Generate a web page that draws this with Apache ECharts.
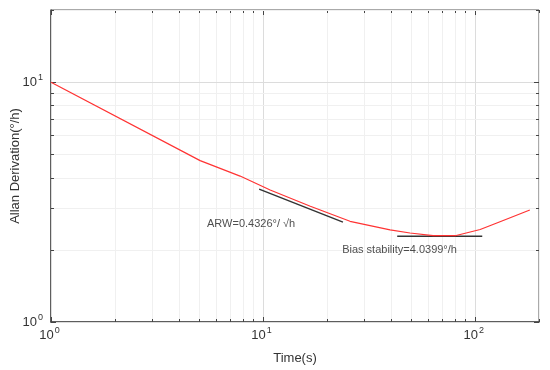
<!DOCTYPE html>
<html>
<head>
<meta charset="utf-8">
<script src="https://cdn.jsdelivr.net/npm/echarts@6/dist/echarts.min.js"></script>
<style>
  html, body { margin: 0; padding: 0; background: #fff; }
  #allan { width: 550px; height: 370px; }
</style>
</head>
<body>
<div id="allan"></div>
<script>
// averaging time (s) and Allan deviation (deg/h)
const tau = [1, 5.05, 7.79, 10.8, 16.7, 25.7, 39.7, 49.3, 63.4, 80.5, 105.6, 131, 181]
const adev = [10, 4.71, 4.06, 3.55, 3.04, 2.63, 2.42, 2.35, 2.29, 2.29, 2.43, 2.62, 2.93]

// fitted lines
const arwLine = [[9.58, 3.58], [23.8, 2.61]]
const biasLine = [[42.9, 2.28], [108, 2.28]]

// annotation texts and anchors
const arwText = 'ARW=0.4326°/ √h'
const arwAt = [5.44, 2.56]
const biasText = 'Bias stability=4.0399°/h'
const biasAt = [23.6, 2.0]

// tick values on the log axes
const xTicks = [1, 2, 3, 4, 5, 6, 7, 8, 9, 10, 20, 30, 40, 50, 60, 70, 80, 90, 100, 200]
const yTicks = [1, 2, 3, 4, 5, 6, 7, 8, 9, 10, 20]
const xMajor = [1, 10, 100]
const yMajor = [1, 10]

const FONT = 'Liberation Sans, Arial, sans-serif'

function powLabel (value) {
  const e = Math.log10(value)
  if (Math.abs(e - Math.round(e)) > 1e-6) return ''
  return '{b|10}{s|' + Math.round(e) + '}'
}

const yRich = {
  b: { fontSize: 13, color: '#333', fontFamily: FONT },
  s: { fontSize: 9, color: '#333', fontFamily: FONT, padding: [0, 0, 9, 1] }
}
const xRich = {
  b: { fontSize: 13, color: '#333', fontFamily: FONT },
  s: { fontSize: 9, color: '#333', fontFamily: FONT, padding: [0, 3, 9, 1] }
}

function drawFrame (params, api) {
  const cs = params.coordSys
  const left = cs.x
  const top = cs.y
  const right = cs.x + cs.width
  const bottom = cs.y + cs.height
  const kids = []
  const line = (x1, y1, x2, y2, stroke, w) => kids.push({
    type: 'line',
    shape: { x1, y1, x2, y2 },
    style: { stroke, lineWidth: w }
  })
  xTicks.forEach(v => {
    const px = Math.round(api.coord([v, 1])[0]) + 0.5
    const major = xMajor.includes(v)
    line(px, top, px, bottom, major ? '#dcdcdc' : '#f0f0f0', 1)
    const len = major ? 5 : 3
    line(px, bottom, px, bottom - len, '#444', 1)
    line(px, top, px, top + len, '#444', 1)
  })
  yTicks.forEach(v => {
    const py = Math.round(api.coord([1, v])[1]) + 0.5
    const major = yMajor.includes(v)
    line(left, py, right, py, major ? '#dcdcdc' : '#f0f0f0', 1)
    const len = major ? 5 : 3
    line(left, py, left + len, py, '#444', 1)
    line(right, py, right - len, py, '#444', 1)
  })
  return { type: 'group', children: kids }
}

const myChart = echarts.init(document.getElementById('allan'))

const option = {
  backgroundColor: '#fff',
  animation: false,
  textStyle: { fontFamily: FONT },
  grid: {
    left: 51,
    top: 10,
    right: 11,
    bottom: 48,
    outerBoundsMode: 'none',
    containLabel: false,
    show: true,
    borderColor: '#555',
    borderWidth: 1
  },
  xAxis: {
    type: 'log',
    logBase: 10,
    min: 1,
    max: 200,
    name: 'Time(s)',
    nameLocation: 'middle',
    nameGap: 30,
    nameMoveOverlap: false,
    nameTextStyle: { fontSize: 13, color: '#333', fontFamily: FONT },
    axisLine: { show: true, lineStyle: { color: '#444', width: 1.5 } },
    axisTick: { show: false },
    splitLine: { show: false },
    axisLabel: {
      formatter: powLabel,
      rich: xRich,
      margin: 4,
      showMaxLabel: false
    }
  },
  yAxis: {
    type: 'log',
    logBase: 10,
    min: 1,
    max: 20,
    name: 'Allan Derivation(°/h)',
    nameLocation: 'middle',
    nameGap: 29,
    nameMoveOverlap: false,
    nameTextStyle: { fontSize: 13, color: '#333', fontFamily: FONT },
    axisLine: { show: true, lineStyle: { color: '#444', width: 1.5 } },
    axisTick: { show: false },
    splitLine: { show: false },
    axisLabel: {
      formatter: powLabel,
      rich: yRich,
      margin: 8,
      showMaxLabel: false
    }
  },
  series: [
    {
      type: 'custom',
      renderItem: drawFrame,
      data: [[1, 1]],
      silent: true,
      z: 1
    },
    {
      name: 'Allan',
      type: 'line',
      data: tau.map((t, i) => [t, adev[i]]),
      smooth: false,
      symbol: 'none',
      lineStyle: { color: '#ff3333', width: 1.2 },
      z: 3
    },
    {
      type: 'line',
      data: arwLine,
      symbol: 'none',
      lineStyle: { color: '#333', width: 1.5 },
      z: 2
    },
    {
      type: 'line',
      data: biasLine,
      symbol: 'none',
      lineStyle: { color: '#333', width: 1.5 },
      z: 2
    },
    {
      type: 'scatter',
      symbolSize: 0,
      data: [
        { value: arwAt, name: arwText },
        { value: biasAt, name: biasText }
      ],
      label: {
        show: true,
        position: 'right',
        distance: 0,
        formatter: p => p.name,
        fontSize: 11,
        color: '#222',
        fontFamily: FONT
      },
      silent: true,
      z: 4
    }
  ]
}

myChart.setOption(option)
window.onresize = myChart.resize
</script>
</body>
</html>
